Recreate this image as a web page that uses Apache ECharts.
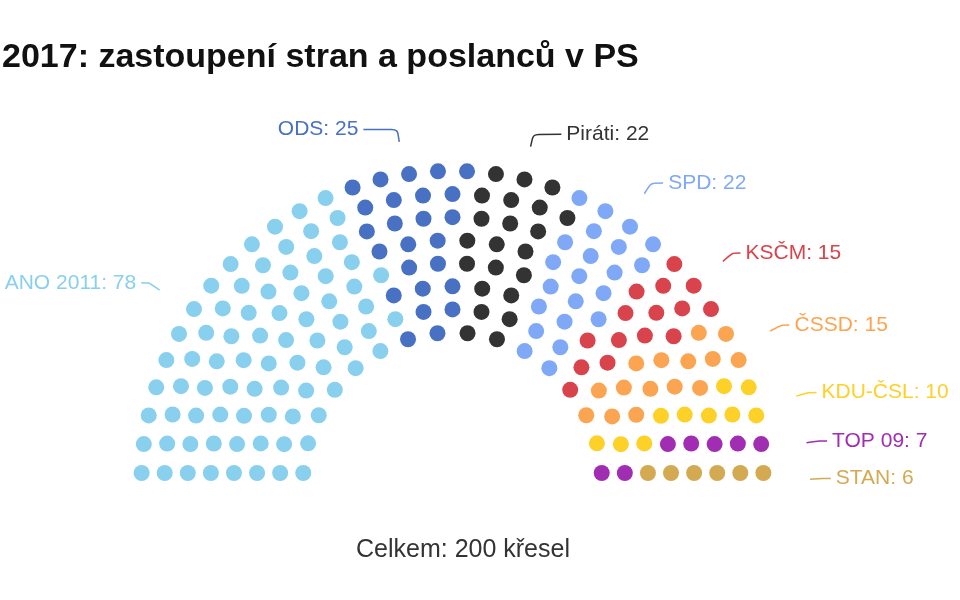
<!DOCTYPE html>
<html><head><meta charset="utf-8">
<script src="https://cdn.jsdelivr.net/npm/echarts@6/dist/echarts.min.js"></script>
<style>html,body{margin:0;padding:0;background:#fff}#c{width:960px;height:600px}</style>
</head><body><div id="c"></div>
<script>
// ---- data ----
const parties = ['ANO 2011', 'ODS', 'Piráti', 'SPD', 'KSČM', 'ČSSD', 'KDU-ČSL', 'TOP 09', 'STAN'];
const seats = [78, 25, 22, 22, 15, 15, 10, 7, 6];
const titleText = '2017: zastoupení stran a poslanců v PS';
const totalText = 'Celkem: {n} křesel';

// ---- styles / layout ----
const colors = ['#89cfee', '#4870c3', '#333333', '#7fa9f7', '#d8434c', '#fba552', '#fdd127', '#a12db3', '#d3a952'];
const labelTail = { 'ODS': 34, 'Piráti': 28, 'SPD': 12 };
const FONT = '"Liberation Sans", Arial, Helvetica, sans-serif';
const ROWS = 8, CX = 452.5, CY = 482, R_IN = 149.5, R_OUT = 311, LIFT = 9, DOT = 16;
const LABEL_CY = 496, LABEL_R = 358;

const total = seats.reduce((a, b) => a + b, 0);

// seats per row proportional to row radius
const radii = [];
for (let i = 0; i < ROWS; i++) radii.push(R_IN + i * (R_OUT - R_IN) / (ROWS - 1));
const sumR = radii.reduce((a, b) => a + b, 0);
const raw = radii.map(r => total * r / sumR);
const counts = raw.map(Math.floor);
let rest = total - counts.reduce((a, b) => a + b, 0);
raw.map((v, i) => [v - Math.floor(v), i]).sort((a, b) => b[0] - a[0]).slice(0, rest).forEach(e => counts[e[1]]++);

const slots = [];
radii.forEach((r, i) => {
  const off = Math.asin(LIFT / r) * 180 / Math.PI;
  const n = counts[i];
  for (let j = 0; j < n; j++) slots.push({ row: i, angle: off + j * (180 - 2 * off) / (n - 1) });
});
slots.sort((a, b) => (a.angle - b.angle) || (a.row - b.row));

const seatData = parties.map(() => []);
let k = 0;
seats.forEach((s, p) => { for (let m = 0; m < s; m++) { const sl = slots[k++]; seatData[p].push([sl.row, sl.angle]); } });

const series = parties.map((name, p) => ({
  type: 'scatter', name, coordinateSystem: 'polar', data: seatData[p],
  symbol: 'circle', symbolSize: DOT, itemStyle: { color: colors[p], opacity: 1 },
  silent: true, animation: false
}));

series.push({
  type: 'pie', center: [CX, LABEL_CY], radius: [LABEL_R - 1, LABEL_R],
  startAngle: 180, endAngle: 0, clockwise: true, avoidLabelOverlap: false,
  silent: true, animation: false,
  itemStyle: { color: 'rgba(0,0,0,0)' },
  emphasis: { disabled: true },
  data: parties.map((name, p) => ({
    name, value: seats[p],
    label: { color: colors[p] },
    labelLine: { length2: labelTail[name] || 8, lineStyle: { color: colors[p] } }
  })),
  label: { show: true, position: 'outside', formatter: '{b}: {c}', fontSize: 21, fontFamily: FONT, distanceToLabelLine: 5 },
  labelLine: { show: true, length: 12.7, smooth: 0.2, lineStyle: { width: 1.5 } }
});

const chart = echarts.init(document.getElementById('c'), null, { renderer: 'canvas' });
chart.setOption({
  backgroundColor: '#ffffff',
  animation: false,
  title: [
    { text: titleText, left: -3, top: 36, textStyle: { fontSize: 34, fontWeight: 'bold', color: '#111111', fontFamily: FONT } },
    { text: totalText.replace('{n}', total), left: 351, top: 533, textStyle: { fontSize: 25, fontWeight: 'normal', color: '#333333', fontFamily: FONT } }
  ],
  polar: { center: [CX, CY], radius: [R_IN, R_OUT] },
  radiusAxis: { type: 'value', min: 0, max: ROWS - 1, axisLine: { show: false }, axisTick: { show: false }, axisLabel: { show: false }, splitLine: { show: false } },
  angleAxis: { type: 'value', min: 0, max: 360, startAngle: 180, clockwise: true, axisLine: { show: false }, axisTick: { show: false }, axisLabel: { show: false }, splitLine: { show: false } },
  series
});
</script>
</body></html>
